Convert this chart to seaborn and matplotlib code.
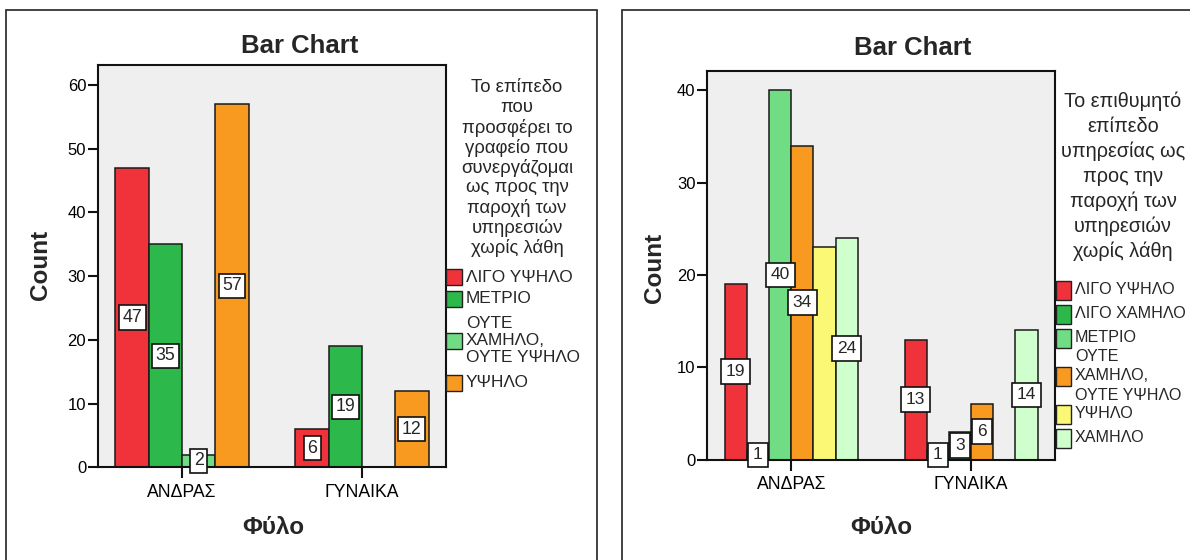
import numpy as np
import pandas as pd
import matplotlib
matplotlib.use("Agg")
import matplotlib.pyplot as plt
from matplotlib.patches import Rectangle
import seaborn as sns

# ---- data -------------------------------------------------------------
genders = ["ΑΝΔΡΑΣ", "ΓΥΝΑΙΚΑ"]

# Left chart: level offered by the office
offered_levels = ["ΛΙΓΟ ΥΨΗΛΟ", "ΜΕΤΡΙΟ", "ΟΥΤΕ\nΧΑΜΗΛΟ,\nΟΥΤΕ ΥΨΗΛΟ", "ΥΨΗΛΟ"]
offered_colors = ["#F0323A", "#2DB84B", "#70DD85", "#F89A1F"]
offered_men = [47, 35, 2, 57]
offered_women = [6, 19, 0, 12]
offered_title = ["Το επίπεδο", "που", "προσφέρει το", "γραφείο που",
                 "συνεργάζομαι", "ως προς την", "παροχή των",
                 "υπηρεσιών", "χωρίς λάθη"]

# Right chart: desired level of service
desired_levels = ["ΛΙΓΟ ΥΨΗΛΟ", "ΛΙΓΟ ΧΑΜΗΛΟ", "ΜΕΤΡΙΟ",
                  "ΟΥΤΕ\nΧΑΜΗΛΟ,\nΟΥΤΕ ΥΨΗΛΟ", "ΥΨΗΛΟ", "ΧΑΜΗΛΟ"]
desired_colors = ["#F0323A", "#2DB84B", "#70DD85", "#F89A1F", "#FAF875", "#CEFFCC"]
desired_men = [19, 1, 40, 34, 23, 24]
desired_women = [13, 1, 3, 6, 0, 14]
desired_title = ["Το επιθυμητό", "επίπεδο", "υπηρεσίας ως", "προς την",
                 "παροχή των", "υπηρεσιών", "χωρίς λάθη"]
# value labels suppressed by overlap in the output
desired_hidden_labels = [("ΑΝΔΡΑΣ", "ΥΨΗΛΟ")]

x_title = "Φύλο"
y_title = "Count"
chart_title = "Bar Chart"

# ---- style ------------------------------------------------------------
sns.set_style("white")
plt.rcParams["font.family"] = ["Liberation Sans", "DejaVu Sans"]

W, H = 1190, 560
fig = plt.figure(figsize=(W / 100, H / 100), dpi=100)
fig.patch.set_facecolor("white")


def fx(x):
    return x / W


def fy(y):
    return 1 - y / H


def frame(x0, y0, x1, y1):
    fig.add_artist(Rectangle((fx(x0), fy(y1)), fx(x1) - fx(x0), fy(y0) - fy(y1),
                             transform=fig.transFigure, fill=False,
                             edgecolor="#222222", linewidth=1.2))


def make_df(levels, men, women):
    rows = []
    for g, vals in zip(genders, [men, women]):
        for lev, v in zip(levels, vals):
            rows.append({"gender": g, "level": lev, "count": v})
    return pd.DataFrame(rows)


def draw_chart(box, levels, colors, men, women, ymax, yticks,
               label_size, label_pad, hidden=()):
    x0, y0, x1, y1 = box
    ax = fig.add_axes([fx(x0), fy(y1), fx(x1) - fx(x0), fy(y0) - fy(y1)])
    df = make_df(levels, men, women)
    sns.barplot(data=df, x="gender", y="count", hue="level",
                order=genders, hue_order=levels, palette=colors,
                saturation=1, width=0.74, edgecolor="#1a1a1a", linewidth=1.1,
                legend=False, errorbar=None, ax=ax)
    ax.set_facecolor("#EFEFEF")
    ax.set_xlim(-0.467, 1.467)
    ax.set_ylim(0, ymax)
    ax.set_yticks(yticks)
    ax.set_xlabel("")
    ax.set_ylabel("")
    for s in ax.spines.values():
        s.set_visible(True)
        s.set_color("#111111")
        s.set_linewidth(1.5)
    ax.tick_params(axis="y", direction="out", length=7.5, width=1.5,
                   colors="#111111", pad=1, labelsize=12, left=True)
    ax.tick_params(axis="x", direction="out", length=8, width=1.5,
                   colors="#111111", pad=4, labelsize=12.7, bottom=True)
    for t in ax.get_xticklabels() + ax.get_yticklabels():
        t.set_color("black")

    # value labels in white boxes at mid-height of each bar
    for lev, cont in zip(levels, ax.containers):
        for g, bar in zip(genders, cont):
            h = bar.get_height()
            if h <= 0 or (g, lev) in hidden:
                continue
            ax.text(bar.get_x() + bar.get_width() / 2, h / 2, f"{int(h)}",
                    ha="center", va="center", fontsize=label_size,
                    zorder=6, clip_on=False,
                    bbox=dict(boxstyle=f"square,pad={label_pad}",
                              facecolor="white", edgecolor="#111111",
                              linewidth=1.2))
    return ax


def draw_legend(title_lines, title_xc, title_y0, title_step, title_size,
                levels, colors, patch_x, patch_w, patch_h, row_y0, pitch,
                extra, text_size, line_sp):
    for i, line in enumerate(title_lines):
        fig.text(fx(title_xc), fy(title_y0 + i * title_step), line,
                 ha="center", va="center", fontsize=title_size)
    y = row_y0
    prev_extra = 0
    for i, (lev, col) in enumerate(zip(levels, colors)):
        n = lev.count("\n")
        if i > 0:
            y += pitch + extra * (prev_extra + n)
        prev_extra = n
        fig.add_artist(Rectangle((fx(patch_x), fy(y + patch_h / 2)),
                                 fx(patch_w), patch_h / H,
                                 transform=fig.transFigure, facecolor=col,
                                 edgecolor="#222222", linewidth=1.0))
        fig.text(fx(patch_x + patch_w + 4), fy(y), lev, ha="left", va="center",
                 fontsize=text_size, linespacing=line_sp)


def chart_texts(title_xy, ylab_xy, xlab_xy):
    fig.text(fx(title_xy[0]), fy(title_xy[1]), chart_title, ha="center",
             va="center", fontsize=18.5, fontweight="bold")
    fig.text(fx(ylab_xy[0]), fy(ylab_xy[1]), y_title, ha="center", va="center",
             rotation=90, fontsize=17.5, fontweight="bold")
    fig.text(fx(xlab_xy[0]), fy(xlab_xy[1]), x_title, ha="center", va="center",
             fontsize=17.5, fontweight="bold")


# ---- left chart ---------------------------------------------------------
frame(5.5, 10, 597, 600)
draw_chart((98, 65, 446, 467.3), offered_levels, offered_colors,
           offered_men, offered_women, 63.1, range(0, 61, 10), 12.8, 0.2)
chart_texts((300, 46), (40, 265), (273, 528))
draw_legend(offered_title, 517, 88, 20, 13.3, offered_levels, offered_colors,
            446, 16, 16, 277, 21.5, 10.3, 12.4, 1.2)

# ---- right chart --------------------------------------------------------
frame(622, 10, 1300, 600)
draw_chart((707.3, 71, 1055, 459.5), desired_levels, desired_colors,
           desired_men, desired_women, 42.1, range(0, 41, 10), 12.5, 0.28,
           hidden=desired_hidden_labels)
chart_texts((913, 48), (655, 268), (881, 528))
draw_legend(desired_title, 1123, 101.7, 25, 14.3, desired_levels, desired_colors,
            1056, 15, 19, 290, 24, 7, 11.6, 1.35)

fig.savefig("out.png", dpi=100, facecolor="white")
